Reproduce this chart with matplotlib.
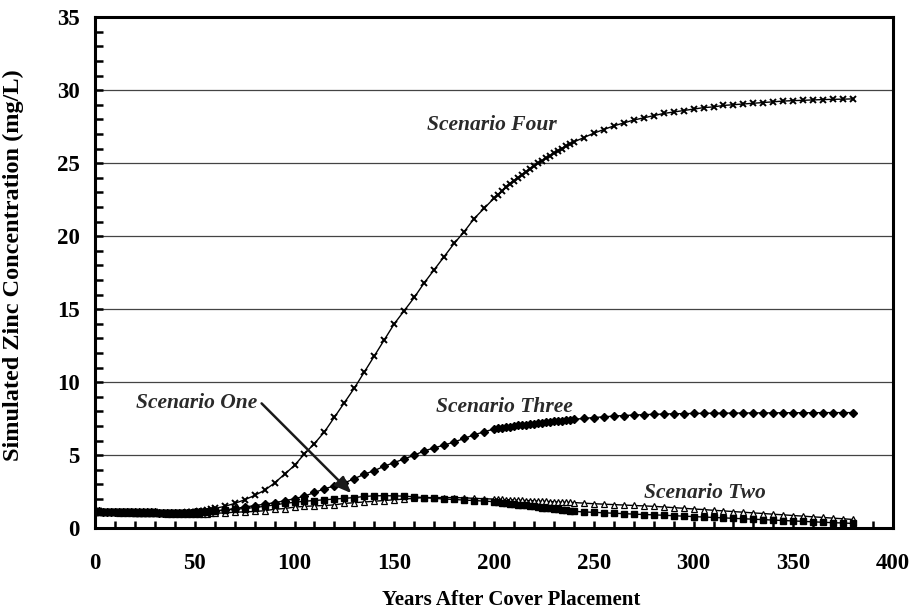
import matplotlib
matplotlib.use('Agg')
import matplotlib.pyplot as plt
from matplotlib.ticker import MultipleLocator

plt.rcParams['font.family'] = ['Liberation Serif', 'DejaVu Serif']
plt.rcParams['font.weight'] = 'bold'

# sample years: dense 0-60 and 200-240, every 5 years otherwise
years = (list(range(0, 61, 2)) + list(range(65, 196, 5))
         + list(range(200, 241, 2)) + list(range(245, 381, 5)))

scenario_one = [
    1.12, 1.12, 1.11, 1.11, 1.10, 1.10, 1.09, 1.09, 1.08, 1.08, 1.07, 1.07, 1.06, 1.06, 1.05, 1.05,
    1.04, 1.04, 1.04, 1.03, 1.03, 1.03, 1.03, 1.03, 1.04, 1.05, 1.06, 1.08, 1.11, 1.15, 1.20,
    1.25, 1.30, 1.35, 1.42, 1.50, 1.60, 1.70, 1.78, 1.85, 1.90, 1.95, 2.00, 2.05, 2.10, 2.18, 2.22,
    2.23, 2.22, 2.20, 2.15, 2.10, 2.05, 2.00, 1.97, 1.93, 1.90, 1.86,
    1.82, 1.79, 1.76, 1.72, 1.69, 1.66, 1.62, 1.59, 1.56, 1.52, 1.49, 1.46, 1.42, 1.39, 1.36, 1.32,
    1.29, 1.26, 1.22, 1.19, 1.16,
    1.12, 1.09, 1.06, 1.03, 1.00, 0.97, 0.94, 0.92, 0.89, 0.86, 0.83, 0.80, 0.77, 0.74, 0.71, 0.68,
    0.65, 0.62, 0.59, 0.56, 0.53, 0.50, 0.47, 0.44, 0.41, 0.38, 0.36, 0.33,
]

scenario_two = [
    1.10, 1.10, 1.09, 1.09, 1.08, 1.08, 1.07, 1.07, 1.06, 1.06, 1.05, 1.05, 1.04, 1.04, 1.03, 1.03,
    1.02, 1.02, 1.01, 1.01, 1.00, 1.00, 1.00, 1.00, 1.00, 1.00, 1.00, 1.01, 1.01, 1.02, 1.03,
    1.05, 1.10, 1.12, 1.15, 1.20, 1.30, 1.35, 1.45, 1.50, 1.53, 1.56, 1.60, 1.70, 1.75, 1.80, 1.85,
    1.90, 1.95, 2.00, 2.05, 2.10, 2.10, 2.10, 2.10, 2.08, 2.05, 2.02,
    2.00, 1.99, 1.97, 1.96, 1.95, 1.94, 1.92, 1.91, 1.90, 1.89, 1.88, 1.86, 1.85, 1.84, 1.83, 1.81,
    1.80, 1.79, 1.78, 1.77, 1.76,
    1.72, 1.68, 1.65, 1.62, 1.59, 1.56, 1.53, 1.50, 1.46, 1.41, 1.37, 1.32, 1.28, 1.23, 1.19, 1.14,
    1.10, 1.05, 1.01, 0.96, 0.92, 0.87, 0.83, 0.78, 0.74, 0.69, 0.65, 0.60,
]

scenario_three = [
    1.15, 1.15, 1.14, 1.14, 1.13, 1.13, 1.12, 1.12, 1.11, 1.11, 1.10, 1.10, 1.09, 1.09, 1.08, 1.08,
    1.07, 1.07, 1.07, 1.06, 1.06, 1.06, 1.06, 1.06, 1.07, 1.08, 1.09, 1.10, 1.12, 1.14, 1.16,
    1.25, 1.35, 1.45, 1.55, 1.65, 1.75, 1.88, 2.02, 2.20, 2.45, 2.70, 2.90, 3.10, 3.40, 3.70, 3.95,
    4.25, 4.50, 4.75, 5.00, 5.30, 5.50, 5.70, 5.90, 6.15, 6.40, 6.60,
    6.80, 6.84, 6.88, 6.92, 6.96, 7.00, 7.04, 7.07, 7.10, 7.13, 7.16, 7.19, 7.22, 7.25, 7.28, 7.31,
    7.34, 7.37, 7.40, 7.43, 7.46,
    7.52, 7.58, 7.63, 7.68, 7.72, 7.75, 7.78, 7.80, 7.82, 7.84, 7.85, 7.86, 7.87, 7.88, 7.88, 7.89,
    7.89, 7.90, 7.90, 7.90, 7.91, 7.91, 7.91, 7.91, 7.92, 7.92, 7.92, 7.92,
]

scenario_four = [
    1.15, 1.15, 1.14, 1.14, 1.13, 1.13, 1.12, 1.12, 1.11, 1.11, 1.10, 1.10, 1.09, 1.09, 1.08, 1.08,
    1.07, 1.07, 1.07, 1.06, 1.06, 1.06, 1.07, 1.08, 1.10, 1.12, 1.15, 1.19, 1.24, 1.30, 1.36,
    1.50, 1.70, 1.95, 2.25, 2.60, 3.10, 3.70, 4.30, 5.10, 5.80, 6.60, 7.60, 8.60, 9.60, 10.7, 11.8,
    12.9, 14.0, 14.9, 15.8, 16.8, 17.7, 18.6, 19.5, 20.3, 21.2, 21.9,
    22.6, 22.85, 23.1, 23.35, 23.6, 23.8, 24.0, 24.2, 24.4, 24.6, 24.8, 25.0, 25.15, 25.35, 25.5, 25.7,
    25.85, 26.0, 26.15, 26.3, 26.45,
    26.75, 27.05, 27.3, 27.55, 27.75, 27.95, 28.1, 28.25, 28.4, 28.5, 28.6, 28.7, 28.8, 28.85, 28.95, 29.0,
    29.05, 29.1, 29.15, 29.2, 29.25, 29.28, 29.3, 29.33, 29.35, 29.37, 29.38, 29.4,
]

fig = plt.figure(figsize=(9.09, 6.10), dpi=100)
ax = fig.add_axes([0.1045, 0.134, 0.878, 0.838])

ax.grid(axis='y', color='#444444', linewidth=0.9)
ax.set_axisbelow(True)

ax.plot(years, scenario_four, color='black', lw=1.0, marker='x', ms=5, mew=1.4)
ax.plot(years, scenario_three, color='black', lw=1.0, marker='D', ms=4)
ax.plot(years, scenario_two, color='black', lw=1.0, marker='^', ms=4.5,
        mfc='white', mec='black', mew=0.9)
ax.plot(years, scenario_one, color='black', lw=1.0, marker='s', ms=4)

lab = dict(fontsize=15.5, fontweight='bold', fontstyle='italic', color='#2a2a2a',
           ha='center', va='center')
ax.text(199, 27.6, 'Scenario Four', **lab)
ax.text(205, 8.3, 'Scenario Three', **lab)
ax.text(305.5, 2.4, 'Scenario Two', **lab)
ax.text(50.7, 8.6, 'Scenario One', **lab)
ax.annotate('', xy=(128.5, 2.4), xytext=(83.5, 8.55),
            arrowprops=dict(arrowstyle='-|>,head_length=1.0,head_width=0.4',
                            color='#1a1a1a', lw=1.8, shrinkA=0, shrinkB=0))

ax.set_xlim(0, 400)
ax.set_ylim(0, 35)
ax.xaxis.set_major_locator(MultipleLocator(50))
ax.xaxis.set_minor_locator(MultipleLocator(10))
ax.yaxis.set_major_locator(MultipleLocator(5))
ax.yaxis.set_minor_locator(MultipleLocator(1))
ax.tick_params(axis='both', which='both', direction='in', width=1.8, labelsize=16.5)
ax.tick_params(axis='x', which='both', length=5, pad=18)
ax.tick_params(axis='y', which='both', length=6, pad=11)
for s in ax.spines.values():
    s.set_linewidth(2.2)

ax.set_xlabel('Years After Cover Placement', fontsize=15, fontweight='bold')
ax.set_ylabel('Simulated Zinc Concentration (mg/L)', fontsize=17.5, fontweight='bold')
ax.xaxis.set_label_coords(0.521, -0.121)
ax.yaxis.set_label_coords(-0.089, 0.515)

fig.savefig('out.png', dpi=100)
